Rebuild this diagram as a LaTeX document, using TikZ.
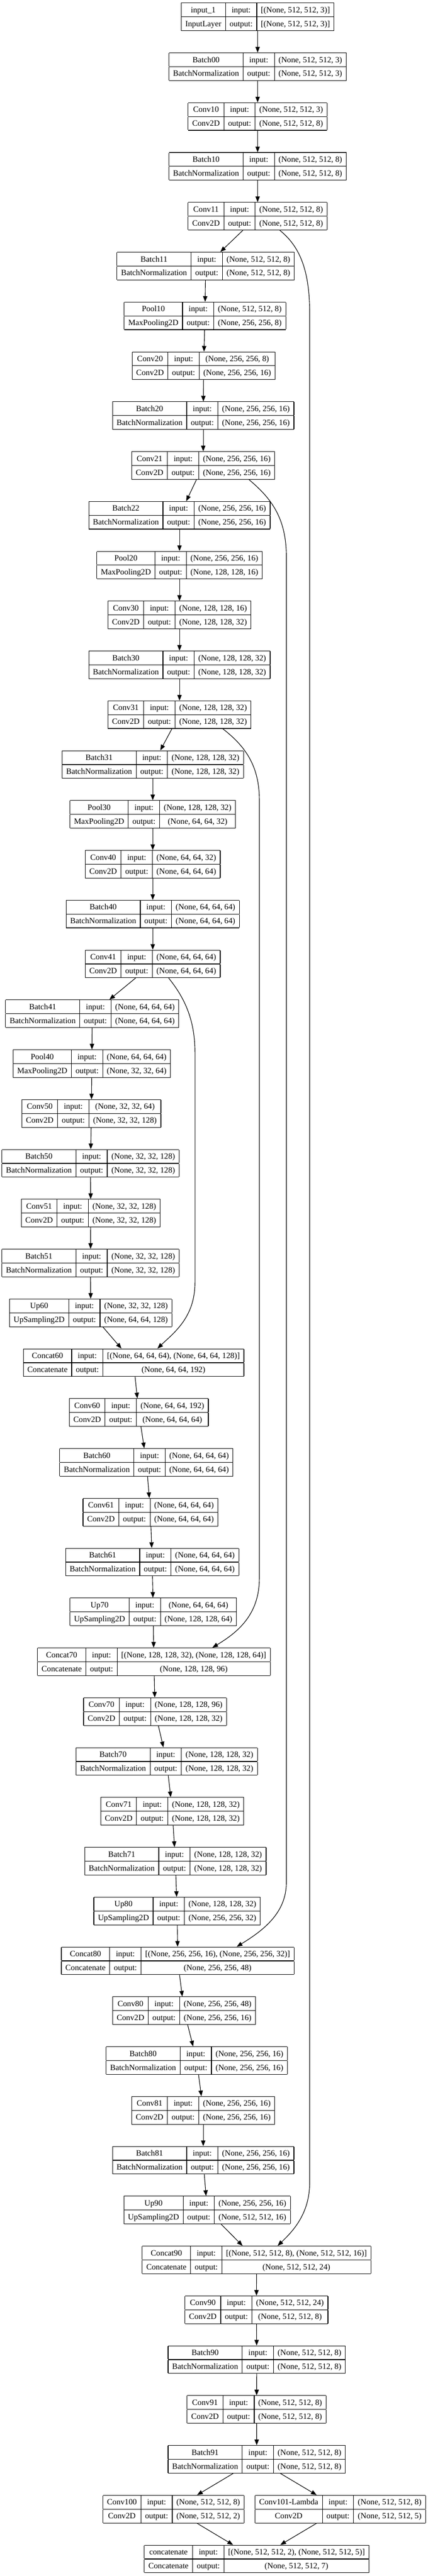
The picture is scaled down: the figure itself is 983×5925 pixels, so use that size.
\documentclass[tikz,border=0pt]{standalone}
\usepackage{fontspec}
\setmainfont{Liberation Serif}
\usepackage{tikz}
\usetikzlibrary{arrows.meta}
\setlength{\tabcolsep}{9.5pt}
\setlength{\arrayrulewidth}{1.33pt}
\newcommand{\layertab}[4]{\begin{tabular}{|c|c|c|}\hline #1 & input: & #3\\\hline #2 & output: & #4\\\hline\end{tabular}}
\tikzset{
   layer/.style={inner sep=0pt, outer sep=0pt,
      font=\fontsize{18.67pt}{30.5pt}\selectfont},
   link/.style={line width=1.33pt, -{Triangle[length=13pt,width=10pt]}},
    }
\begin{document}
\begin{tikzpicture}[x=1pt,y=-1pt]
            \useasboundingbox (0,0) rectangle (983,5925);
            % encoder
            \node[layer] (in0) at (592,38.7) {\layertab{input\_1}{InputLayer}{[(None, 512, 512, 3)]}{[(None, 512, 512, 3)]}};
            \node[layer] (b00) at (592,153.35) {\layertab{Batch00}{BatchNormalization}{(None, 512, 512, 3)}{(None, 512, 512, 3)}};
            \node[layer] (c10) at (592,268.0) {\layertab{Conv10}{Conv2D}{(None, 512, 512, 3)}{(None, 512, 512, 8)}};
            \node[layer] (b10) at (592,382.65) {\layertab{Batch10}{BatchNormalization}{(None, 512, 512, 8)}{(None, 512, 512, 8)}};
            \node[layer] (c11) at (592,497.3) {\layertab{Conv11}{Conv2D}{(None, 512, 512, 8)}{(None, 512, 512, 8)}};
            \node[layer] (b11) at (472.5,611.95) {\layertab{Batch11}{BatchNormalization}{(None, 512, 512, 8)}{(None, 512, 512, 8)}};
            \node[layer] (p10) at (471,726.6) {\layertab{Pool10}{MaxPooling2D}{(None, 512, 512, 8)}{(None, 256, 256, 8)}};
            \node[layer] (c20) at (468,841.25) {\layertab{Conv20}{Conv2D}{(None, 256, 256, 8)}{(None, 256, 256, 16)}};
            \node[layer] (b20) at (467,955.9) {\layertab{Batch20}{BatchNormalization}{(None, 256, 256, 16)}{(None, 256, 256, 16)}};
            \node[layer] (c21) at (467,1070.55) {\layertab{Conv21}{Conv2D}{(None, 256, 256, 16)}{(None, 256, 256, 16)}};
            \node[layer] (b22) at (412.5,1185.2) {\layertab{Batch22}{BatchNormalization}{(None, 256, 256, 16)}{(None, 256, 256, 16)}};
            \node[layer] (p20) at (412.5,1299.85) {\layertab{Pool20}{MaxPooling2D}{(None, 256, 256, 16)}{(None, 128, 128, 16)}};
            \node[layer] (c30) at (412.5,1414.5) {\layertab{Conv30}{Conv2D}{(None, 128, 128, 16)}{(None, 128, 128, 32)}};
            \node[layer] (b30) at (412.5,1529.15) {\layertab{Batch30}{BatchNormalization}{(None, 128, 128, 32)}{(None, 128, 128, 32)}};
            \node[layer] (c31) at (412.5,1643.8) {\layertab{Conv31}{Conv2D}{(None, 128, 128, 32)}{(None, 128, 128, 32)}};
            \node[layer] (b31) at (351,1758.45) {\layertab{Batch31}{BatchNormalization}{(None, 128, 128, 32)}{(None, 128, 128, 32)}};
            \node[layer] (p30) at (351,1873.1) {\layertab{Pool30}{MaxPooling2D}{(None, 128, 128, 32)}{(None, 64, 64, 32)}};
            \node[layer] (c40) at (351,1987.75) {\layertab{Conv40}{Conv2D}{(None, 64, 64, 32)}{(None, 64, 64, 64)}};
            \node[layer] (b40) at (351,2102.4) {\layertab{Batch40}{BatchNormalization}{(None, 64, 64, 64)}{(None, 64, 64, 64)}};
            \node[layer] (c41) at (351,2217.05) {\layertab{Conv41}{Conv2D}{(None, 64, 64, 64)}{(None, 64, 64, 64)}};
            \node[layer] (b41) at (212,2331.7) {\layertab{Batch41}{BatchNormalization}{(None, 64, 64, 64)}{(None, 64, 64, 64)}};
            \node[layer] (p40) at (211,2446.35) {\layertab{Pool40}{MaxPooling2D}{(None, 64, 64, 64)}{(None, 32, 32, 64)}};
            \node[layer] (c50) at (210,2561.0) {\layertab{Conv50}{Conv2D}{(None, 32, 32, 64)}{(None, 32, 32, 128)}};
            \node[layer] (b50) at (208,2675.65) {\layertab{Batch50}{BatchNormalization}{(None, 32, 32, 128)}{(None, 32, 32, 128)}};
            \node[layer] (c51) at (208.5,2790.3) {\layertab{Conv51}{Conv2D}{(None, 32, 32, 128)}{(None, 32, 32, 128)}};
            \node[layer] (b51) at (208,2904.95) {\layertab{Batch51}{BatchNormalization}{(None, 32, 32, 128)}{(None, 32, 32, 128)}};
            % decoder
            \node[layer] (u60) at (208.5,3019.6) {\layertab{Up60}{UpSampling2D}{(None, 32, 32, 128)}{(None, 64, 64, 128)}};
            \node[layer] (cat60) at (307,3134.25) {\layertab{Concat60}{Concatenate}{[(None, 64, 64, 64), (None, 64, 64, 128)]}{(None, 64, 64, 192)}};
            \node[layer] (c60) at (319,3248.9) {\layertab{Conv60}{Conv2D}{(None, 64, 64, 192)}{(None, 64, 64, 64)}};
            \node[layer] (b60) at (336.4,3363.55) {\layertab{Batch60}{BatchNormalization}{(None, 64, 64, 64)}{(None, 64, 64, 64)}};
            \node[layer] (c61) at (345.8,3478.2) {\layertab{Conv61}{Conv2D}{(None, 64, 64, 64)}{(None, 64, 64, 64)}};
            \node[layer] (b61) at (349.8,3592.85) {\layertab{Batch61}{BatchNormalization}{(None, 64, 64, 64)}{(None, 64, 64, 64)}};
            \node[layer] (u70) at (352,3707.5) {\layertab{Up70}{UpSampling2D}{(None, 64, 64, 64)}{(None, 128, 128, 64)}};
            \node[layer] (cat70) at (353.6,3822.15) {\layertab{Concat70}{Concatenate}{[(None, 128, 128, 32), (None, 128, 128, 64)]}{(None, 128, 128, 96)}};
            \node[layer] (c70) at (356.4,3936.8) {\layertab{Conv70}{Conv2D}{(None, 128, 128, 96)}{(None, 128, 128, 32)}};
            \node[layer] (b70) at (383,4051.45) {\layertab{Batch70}{BatchNormalization}{(None, 128, 128, 32)}{(None, 128, 128, 32)}};
            \node[layer] (c71) at (396,4166.1) {\layertab{Conv71}{Conv2D}{(None, 128, 128, 32)}{(None, 128, 128, 32)}};
            \node[layer] (b71) at (403,4280.75) {\layertab{Batch71}{BatchNormalization}{(None, 128, 128, 32)}{(None, 128, 128, 32)}};
            \node[layer] (u80) at (407,4395.4) {\layertab{Up80}{UpSampling2D}{(None, 128, 128, 32)}{(None, 256, 256, 32)}};
            \node[layer] (cat80) at (408.5,4510.05) {\layertab{Concat80}{Concatenate}{[(None, 256, 256, 16), (None, 256, 256, 32)]}{(None, 256, 256, 48)}};
            \node[layer] (c80) at (423,4624.7) {\layertab{Conv80}{Conv2D}{(None, 256, 256, 48)}{(None, 256, 256, 16)}};
            \node[layer] (b80) at (452,4739.35) {\layertab{Batch80}{BatchNormalization}{(None, 256, 256, 16)}{(None, 256, 256, 16)}};
            \node[layer] (c81) at (467,4854.0) {\layertab{Conv81}{Conv2D}{(None, 256, 256, 16)}{(None, 256, 256, 16)}};
            \node[layer] (b81) at (467,4968.65) {\layertab{Batch81}{BatchNormalization}{(None, 256, 256, 16)}{(None, 256, 256, 16)}};
            \node[layer] (u90) at (476,5083.3) {\layertab{Up90}{UpSampling2D}{(None, 256, 256, 16)}{(None, 512, 512, 16)}};
            \node[layer] (cat90) at (589.6,5197.95) {\layertab{Concat90}{Concatenate}{[(None, 512, 512, 8), (None, 512, 512, 16)]}{(None, 512, 512, 24)}};
            \node[layer] (c90) at (589.3,5312.6) {\layertab{Conv90}{Conv2D}{(None, 512, 512, 24)}{(None, 512, 512, 8)}};
            \node[layer] (b90) at (590,5427.25) {\layertab{Batch90}{BatchNormalization}{(None, 512, 512, 8)}{(None, 512, 512, 8)}};
            \node[layer] (c91) at (589.7,5541.9) {\layertab{Conv91}{Conv2D}{(None, 512, 512, 8)}{(None, 512, 512, 8)}};
            \node[layer] (b91) at (590,5656.55) {\layertab{Batch91}{BatchNormalization}{(None, 512, 512, 8)}{(None, 512, 512, 8)}};
            \node[layer] (c100) at (398.7,5771.2) {\layertab{Conv100}{Conv2D}{(None, 512, 512, 8)}{(None, 512, 512, 2)}};
            \node[layer] (c101) at (782,5771.2) {\layertab{Conv101-Lambda}{Conv2D}{(None, 512, 512, 8)}{(None, 512, 512, 5)}};
            \node[layer] (out) at (589.7,5885.85) {\layertab{concatenate}{Concatenate}{[(None, 512, 512, 2), (None, 512, 512, 5)]}{(None, 512, 512, 7)}};
            % main path
            \foreach \a/\b in {in0/b00, b00/c10, c10/b10, b10/c11, c11/b11, b11/p10, p10/c20, c20/b20,
                  b20/c21, c21/b22, b22/p20, p20/c30, c30/b30, b30/c31, c31/b31, b31/p30, p30/c40,
                  c40/b40, b40/c41, c41/b41, b41/p40, p40/c50, c50/b50, b50/c51, c51/b51, b51/u60,
                  u60/cat60, cat60/c60, c60/b60, b60/c61, c61/b61, b61/u70, u70/cat70, cat70/c70,
                  c70/b70, b70/c71, c71/b71, b71/u80, u80/cat80, cat80/c80, c80/b80, b80/c81,
                  c81/b81, b81/u90, u90/cat90, cat90/c90, c90/b90, b90/c91, c91/b91, b91/c100,
                  b91/c101, c100/out, c101/out}
               \draw[link] (\a) -- (\b);
            % skip connections
            \draw[link] ([xshift=51pt]c11.south) .. controls (688,566) and (711.6,620) .. (711.6,720)
               -- (711.6,5020) .. controls (711.6,5090) and (675,5130) .. ([xshift=48.4pt]cat90.north);
            \draw[link] ([xshift=105pt]c21.south) .. controls (622,1145) and (658,1190) .. (658,1280)
               -- (658,4330) .. controls (658,4400) and (605,4440) .. ([xshift=135.5pt]cat80.north);
            \draw[link] ([xshift=99.5pt]c31.south) .. controls (562,1715) and (596,1760) .. (596,1840)
               -- (596,3630) .. controls (596,3715) and (545,3755) .. ([xshift=134.4pt]cat70.north);
            \draw[link] ([xshift=36.5pt]c41.south) .. controls (420,2290) and (448,2340) .. (448,2420)
               -- (448,2950) .. controls (448,3030) and (400,3065) .. ([xshift=54.8pt]cat60.north);
        \end{tikzpicture}
\end{document}
